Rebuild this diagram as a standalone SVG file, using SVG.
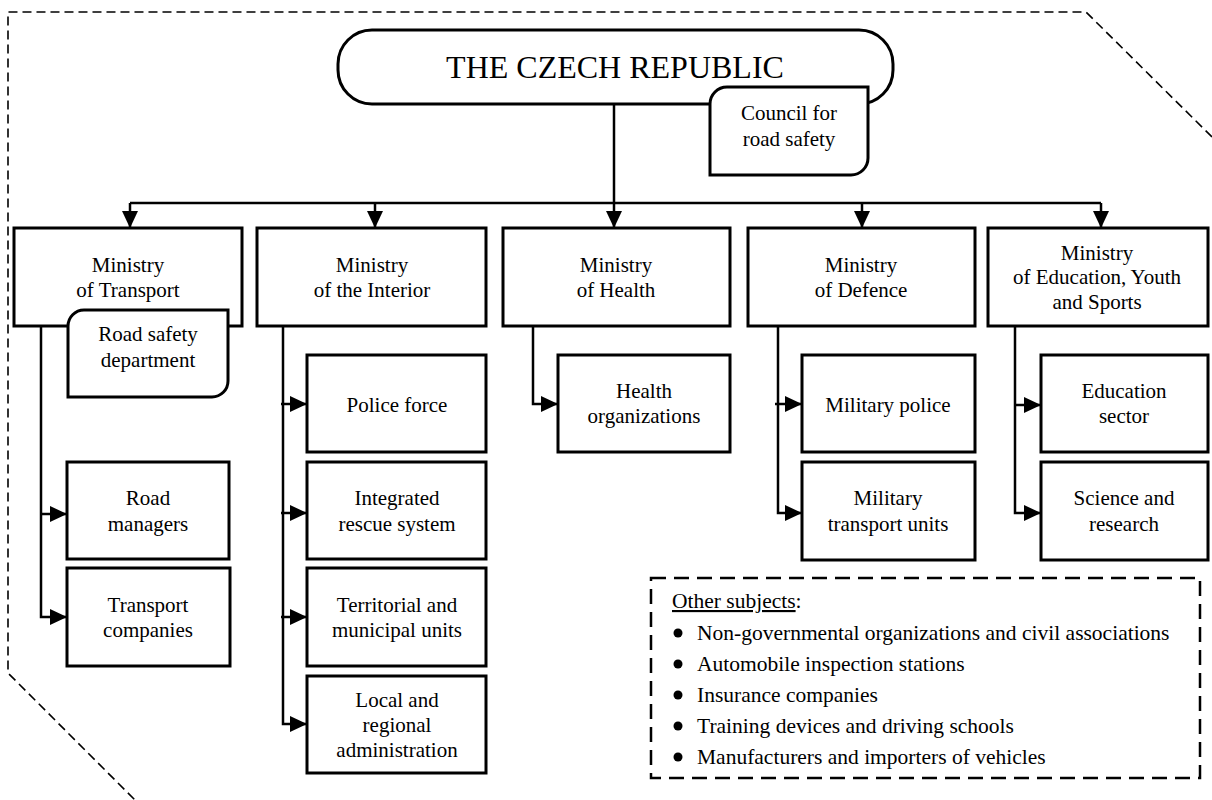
<svg xmlns="http://www.w3.org/2000/svg" width="1212" height="800" viewBox="0 0 1212 800">
<style>
  .box { fill: #fff; stroke: #000; stroke-width: 3; }
  .con { fill: none; stroke: #000; stroke-width: 2.5; }
  .t { font-family: "Liberation Serif", "Times New Roman", serif; font-size: 21px; fill: #000; text-anchor: middle; }
  .l { font-family: "Liberation Serif", "Times New Roman", serif; font-size: 21.5px; fill: #000; }
  .title { font-family: "Liberation Serif", "Times New Roman", serif; font-size: 32px; fill: #000; text-anchor: middle; }
</style>
<defs>
  <marker id="arr" markerUnits="userSpaceOnUse" markerWidth="18" markerHeight="16" refX="17" refY="8" orient="auto">
    <path d="M0,0 L17,8 L0,16 Z" fill="#000"/>
  </marker>
</defs>
<rect width="1212" height="800" fill="#fff"/>
<path d="M1212,137 L1086,12 L8,12 L8,673 L135,800" fill="none" stroke="#000" stroke-width="1.6" stroke-dasharray="9,5"/>

<g id="czech-republic">
  <rect class="box" x="338" y="30" width="555" height="74" rx="34" ry="34"/>
  <text class="title" x="615" y="78">THE CZECH REPUBLIC</text>
</g>
<g id="council">
  <path class="box" d="M710,175 L710,104 A17,17 0 0 1 727,87 L868,87 L868,158 A17,17 0 0 1 851,175 Z"/>
  <text class="t" x="789" y="120">Council for</text>
  <text class="t" x="789" y="146">road safety</text>
</g>

<g id="connectors">
  <path class="con" d="M614,104 L614,228" marker-end="url(#arr)"/>
  <path class="con" d="M130,203 L1101,203"/>
  <path class="con" d="M130,203 L130,228" marker-end="url(#arr)"/>
  <path class="con" d="M375,203 L375,228" marker-end="url(#arr)"/>
  <path class="con" d="M862,203 L862,228" marker-end="url(#arr)"/>
  <path class="con" d="M1101,203 L1101,228" marker-end="url(#arr)"/>
  <path class="con" d="M41,326 L41,617 L67,617" marker-end="url(#arr)"/>
  <path class="con" d="M41,514 L67,514" marker-end="url(#arr)"/>
  <path class="con" d="M283,326 L283,724 L307,724" marker-end="url(#arr)"/>
  <path class="con" d="M281,404 L307,404" marker-end="url(#arr)"/>
  <path class="con" d="M281,513 L307,513" marker-end="url(#arr)"/>
  <path class="con" d="M281,617 L307,617" marker-end="url(#arr)"/>
  <path class="con" d="M533,326 L533,404 L558,404" marker-end="url(#arr)"/>
  <path class="con" d="M778,326 L778,513 L802,513" marker-end="url(#arr)"/>
  <path class="con" d="M775,404 L802,404" marker-end="url(#arr)"/>
  <path class="con" d="M1015,326 L1015,513 L1041,513" marker-end="url(#arr)"/>
  <path class="con" d="M1015,405 L1041,405" marker-end="url(#arr)"/>
</g>

<g id="min-transport">
  <rect class="box" x="14" y="228" width="228" height="98"/>
  <text class="t" x="128" y="272">Ministry</text>
  <text class="t" x="128" y="297">of Transport</text>
</g>
<g id="road-safety-dept">
  <path class="box" d="M68,397 L68,326 A16,16 0 0 1 84,310 L228,310 L228,381 A16,16 0 0 1 212,397 Z"/>
  <text class="t" x="148" y="341">Road safety</text>
  <text class="t" x="148" y="367">department</text>
</g>
<g id="min-interior">
  <rect class="box" x="257" y="228" width="229" height="98"/>
  <text class="t" x="372" y="272">Ministry</text>
  <text class="t" x="372" y="297">of the Interior</text>
</g>
<g id="min-health">
  <rect class="box" x="503" y="228" width="227" height="98"/>
  <text class="t" x="616" y="272">Ministry</text>
  <text class="t" x="616" y="297">of Health</text>
</g>
<g id="min-defence">
  <rect class="box" x="748" y="228" width="227" height="98"/>
  <text class="t" x="861" y="272">Ministry</text>
  <text class="t" x="861" y="297">of Defence</text>
</g>
<g id="min-education">
  <rect class="box" x="988" y="228" width="220" height="98"/>
  <text class="t" x="1097" y="260">Ministry</text>
  <text class="t" x="1097" y="284">of Education, Youth</text>
  <text class="t" x="1097" y="309">and Sports</text>
</g>

<g id="road-managers">
  <rect class="box" x="67" y="462" width="162" height="97"/>
  <text class="t" x="148" y="505">Road</text>
  <text class="t" x="148" y="531">managers</text>
</g>
<g id="transport-companies">
  <rect class="box" x="67" y="568" width="163" height="98"/>
  <text class="t" x="148" y="612">Transport</text>
  <text class="t" x="148" y="637">companies</text>
</g>

<g id="police-force">
  <rect class="box" x="307" y="355" width="179" height="97"/>
  <text class="t" x="397" y="412">Police force</text>
</g>
<g id="integrated-rescue">
  <rect class="box" x="307" y="462" width="179" height="97"/>
  <text class="t" x="397" y="505">Integrated</text>
  <text class="t" x="397" y="531">rescue system</text>
</g>
<g id="territorial">
  <rect class="box" x="307" y="568" width="179" height="98"/>
  <text class="t" x="397" y="612">Territorial and</text>
  <text class="t" x="397" y="637">municipal units</text>
</g>
<g id="local-regional">
  <rect class="box" x="307" y="676" width="179" height="97"/>
  <text class="t" x="397" y="707">Local and</text>
  <text class="t" x="397" y="732">regional</text>
  <text class="t" x="397" y="757">administration</text>
</g>

<g id="health-org">
  <rect class="box" x="558" y="355" width="172" height="97"/>
  <text class="t" x="644" y="398">Health</text>
  <text class="t" x="644" y="423">organizations</text>
</g>

<g id="military-police">
  <rect class="box" x="802" y="355" width="173" height="97"/>
  <text class="t" x="888" y="412">Military police</text>
</g>
<g id="military-transport">
  <rect class="box" x="802" y="462" width="173" height="98"/>
  <text class="t" x="888" y="505">Military</text>
  <text class="t" x="888" y="531">transport units</text>
</g>

<g id="education-sector">
  <rect class="box" x="1041" y="355" width="167" height="97"/>
  <text class="t" x="1124" y="398">Education</text>
  <text class="t" x="1124" y="423">sector</text>
</g>
<g id="science-research">
  <rect class="box" x="1041" y="462" width="167" height="98"/>
  <text class="t" x="1124" y="505">Science and</text>
  <text class="t" x="1124" y="531">research</text>
</g>

<g id="other-subjects">
  <rect x="651" y="578" width="549" height="200" fill="none" stroke="#000" stroke-width="2.5" stroke-dasharray="15,8"/>
  <text class="l" x="672" y="608"><tspan text-decoration="underline">Other subjects</tspan>:</text>
  <circle cx="678" cy="633" r="4.5" fill="#000"/>
  <text class="l" x="697" y="640">Non-governmental organizations and civil associations</text>
  <circle cx="678" cy="664" r="4.5" fill="#000"/>
  <text class="l" x="697" y="671">Automobile inspection stations</text>
  <circle cx="678" cy="695" r="4.5" fill="#000"/>
  <text class="l" x="697" y="702">Insurance companies</text>
  <circle cx="678" cy="726" r="4.5" fill="#000"/>
  <text class="l" x="697" y="733">Training devices and driving schools</text>
  <circle cx="678" cy="757" r="4.5" fill="#000"/>
  <text class="l" x="697" y="764">Manufacturers and importers of vehicles</text>
</g>
</svg>
